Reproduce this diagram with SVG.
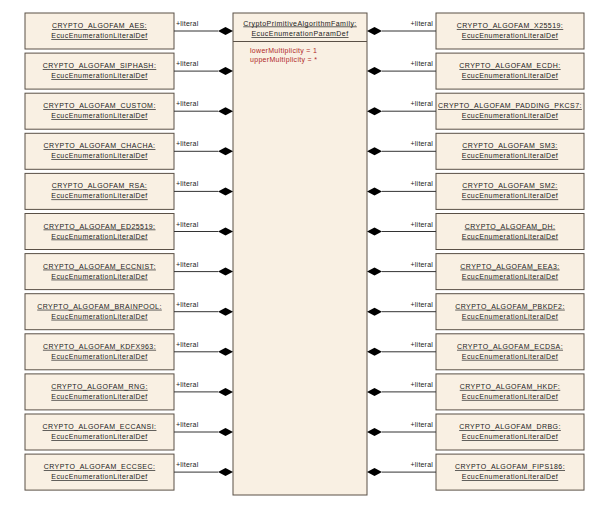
<svg xmlns="http://www.w3.org/2000/svg" width="604" height="519" viewBox="0 0 604 519">
<style>
.box{fill:#F9F0E3;stroke:#5a5046;stroke-width:1}
.t{font-family:"Liberation Sans",Arial,sans-serif;font-size:7px;letter-spacing:0.45px;fill:#222;text-anchor:middle;text-decoration:underline}
.lbl{font-family:"Liberation Sans",Arial,sans-serif;font-size:7px;letter-spacing:0.2px;fill:#222}
.attr{font-family:"Liberation Sans",Arial,sans-serif;font-size:7px;letter-spacing:0.3px;fill:#b02828}
.ln{stroke:#333;stroke-width:1;fill:none}
.dia{fill:#000}
</style>
<rect width="604" height="519" fill="#fff"/>
<g id="center">
<rect class="box" x="233" y="13" width="134" height="482"/>
<text class="t" x="300" y="25.5">CryptoPrimitiveAlgorithmFamily:</text>
<text class="t" x="300" y="36">EcucEnumerationParamDef</text>
<line x1="233" y1="41.5" x2="367" y2="41.5" stroke="#5a5046"/>
<text class="attr" x="250" y="52.5">lowerMultiplicity = 1</text>
<text class="attr" x="250" y="61.5">upperMultiplicity = *</text>
</g>
<g id="left-nodes">
<g id="n-aes"><rect class="box" x="25" y="13" width="149" height="36"/><text class="t" x="99.5" y="28">CRYPTO_ALGOFAM_AES:</text><text class="t" x="99.5" y="38">EcucEnumerationLiteralDef</text></g>
<g id="n-siphash"><rect class="box" x="25" y="53.1" width="149" height="36"/><text class="t" x="99.5" y="68.1">CRYPTO_ALGOFAM_SIPHASH:</text><text class="t" x="99.5" y="78.1">EcucEnumerationLiteralDef</text></g>
<g id="n-custom"><rect class="box" x="25" y="93.2" width="149" height="36"/><text class="t" x="99.5" y="108.2">CRYPTO_ALGOFAM_CUSTOM:</text><text class="t" x="99.5" y="118.2">EcucEnumerationLiteralDef</text></g>
<g id="n-chacha"><rect class="box" x="25" y="133.3" width="149" height="36"/><text class="t" x="99.5" y="148.3">CRYPTO_ALGOFAM_CHACHA:</text><text class="t" x="99.5" y="158.3">EcucEnumerationLiteralDef</text></g>
<g id="n-rsa"><rect class="box" x="25" y="173.4" width="149" height="36"/><text class="t" x="99.5" y="188.4">CRYPTO_ALGOFAM_RSA:</text><text class="t" x="99.5" y="198.4">EcucEnumerationLiteralDef</text></g>
<g id="n-ed25519"><rect class="box" x="25" y="213.5" width="149" height="36"/><text class="t" x="99.5" y="228.5">CRYPTO_ALGOFAM_ED25519:</text><text class="t" x="99.5" y="238.5">EcucEnumerationLiteralDef</text></g>
<g id="n-eccnist"><rect class="box" x="25" y="253.6" width="149" height="36"/><text class="t" x="99.5" y="268.6">CRYPTO_ALGOFAM_ECCNIST:</text><text class="t" x="99.5" y="278.6">EcucEnumerationLiteralDef</text></g>
<g id="n-brainpool"><rect class="box" x="25" y="293.7" width="149" height="36"/><text class="t" x="99.5" y="308.7">CRYPTO_ALGOFAM_BRAINPOOL:</text><text class="t" x="99.5" y="318.7">EcucEnumerationLiteralDef</text></g>
<g id="n-kdfx963"><rect class="box" x="25" y="333.8" width="149" height="36"/><text class="t" x="99.5" y="348.8">CRYPTO_ALGOFAM_KDFX963:</text><text class="t" x="99.5" y="358.8">EcucEnumerationLiteralDef</text></g>
<g id="n-rng"><rect class="box" x="25" y="373.9" width="149" height="36"/><text class="t" x="99.5" y="388.9">CRYPTO_ALGOFAM_RNG:</text><text class="t" x="99.5" y="398.9">EcucEnumerationLiteralDef</text></g>
<g id="n-eccansi"><rect class="box" x="25" y="414" width="149" height="36"/><text class="t" x="99.5" y="429">CRYPTO_ALGOFAM_ECCANSI:</text><text class="t" x="99.5" y="439">EcucEnumerationLiteralDef</text></g>
<g id="n-eccsec"><rect class="box" x="25" y="454.1" width="149" height="36"/><text class="t" x="99.5" y="469.1">CRYPTO_ALGOFAM_ECCSEC:</text><text class="t" x="99.5" y="479.1">EcucEnumerationLiteralDef</text></g>
</g>
<g id="right-nodes">
<g id="n-x25519"><rect class="box" x="436" y="13" width="148" height="36"/><text class="t" x="510" y="28">CRYPTO_ALGOFAM_X25519:</text><text class="t" x="510" y="38">EcucEnumerationLiteralDef</text></g>
<g id="n-ecdh"><rect class="box" x="436" y="53.1" width="148" height="36"/><text class="t" x="510" y="68.1">CRYPTO_ALGOFAM_ECDH:</text><text class="t" x="510" y="78.1">EcucEnumerationLiteralDef</text></g>
<g id="n-pkcs7"><rect class="box" x="436" y="93.2" width="148" height="36"/><text class="t" x="510" y="108.2">CRYPTO_ALGOFAM_PADDING_PKCS7:</text><text class="t" x="510" y="118.2">EcucEnumerationLiteralDef</text></g>
<g id="n-sm3"><rect class="box" x="436" y="133.3" width="148" height="36"/><text class="t" x="510" y="148.3">CRYPTO_ALGOFAM_SM3:</text><text class="t" x="510" y="158.3">EcucEnumerationLiteralDef</text></g>
<g id="n-sm2"><rect class="box" x="436" y="173.4" width="148" height="36"/><text class="t" x="510" y="188.4">CRYPTO_ALGOFAM_SM2:</text><text class="t" x="510" y="198.4">EcucEnumerationLiteralDef</text></g>
<g id="n-dh"><rect class="box" x="436" y="213.5" width="148" height="36"/><text class="t" x="510" y="228.5">CRYPTO_ALGOFAM_DH:</text><text class="t" x="510" y="238.5">EcucEnumerationLiteralDef</text></g>
<g id="n-eea3"><rect class="box" x="436" y="253.6" width="148" height="36"/><text class="t" x="510" y="268.6">CRYPTO_ALGOFAM_EEA3:</text><text class="t" x="510" y="278.6">EcucEnumerationLiteralDef</text></g>
<g id="n-pbkdf2"><rect class="box" x="436" y="293.7" width="148" height="36"/><text class="t" x="510" y="308.7">CRYPTO_ALGOFAM_PBKDF2:</text><text class="t" x="510" y="318.7">EcucEnumerationLiteralDef</text></g>
<g id="n-ecdsa"><rect class="box" x="436" y="333.8" width="148" height="36"/><text class="t" x="510" y="348.8">CRYPTO_ALGOFAM_ECDSA:</text><text class="t" x="510" y="358.8">EcucEnumerationLiteralDef</text></g>
<g id="n-hkdf"><rect class="box" x="436" y="373.9" width="148" height="36"/><text class="t" x="510" y="388.9">CRYPTO_ALGOFAM_HKDF:</text><text class="t" x="510" y="398.9">EcucEnumerationLiteralDef</text></g>
<g id="n-drbg"><rect class="box" x="436" y="414" width="148" height="36"/><text class="t" x="510" y="429">CRYPTO_ALGOFAM_DRBG:</text><text class="t" x="510" y="439">EcucEnumerationLiteralDef</text></g>
<g id="n-fips186"><rect class="box" x="436" y="454.1" width="148" height="36"/><text class="t" x="510" y="469.1">CRYPTO_ALGOFAM_FIPS186:</text><text class="t" x="510" y="479.1">EcucEnumerationLiteralDef</text></g>
</g>
<defs>
<polygon id="dl" class="dia" points="218,0 225.5,-4 233,0 225.5,4"/>
<polygon id="dr" class="dia" points="367,0 374.5,-4 382,0 374.5,4"/>
</defs>
<g id="connectors">
<g transform="translate(0,31)"><line class="ln" x1="174" y1="0" x2="218" y2="0"/><use href="#dl"/><text class="lbl" x="176" y="-5">+literal</text><line class="ln" x1="382" y1="0" x2="436" y2="0"/><use href="#dr"/><text class="lbl" x="433" y="-5" text-anchor="end">+literal</text></g>
<g transform="translate(0,71.1)"><line class="ln" x1="174" y1="0" x2="218" y2="0"/><use href="#dl"/><text class="lbl" x="176" y="-5">+literal</text><line class="ln" x1="382" y1="0" x2="436" y2="0"/><use href="#dr"/><text class="lbl" x="433" y="-5" text-anchor="end">+literal</text></g>
<g transform="translate(0,111.2)"><line class="ln" x1="174" y1="0" x2="218" y2="0"/><use href="#dl"/><text class="lbl" x="176" y="-5">+literal</text><line class="ln" x1="382" y1="0" x2="436" y2="0"/><use href="#dr"/><text class="lbl" x="433" y="-5" text-anchor="end">+literal</text></g>
<g transform="translate(0,151.3)"><line class="ln" x1="174" y1="0" x2="218" y2="0"/><use href="#dl"/><text class="lbl" x="176" y="-5">+literal</text><line class="ln" x1="382" y1="0" x2="436" y2="0"/><use href="#dr"/><text class="lbl" x="433" y="-5" text-anchor="end">+literal</text></g>
<g transform="translate(0,191.4)"><line class="ln" x1="174" y1="0" x2="218" y2="0"/><use href="#dl"/><text class="lbl" x="176" y="-5">+literal</text><line class="ln" x1="382" y1="0" x2="436" y2="0"/><use href="#dr"/><text class="lbl" x="433" y="-5" text-anchor="end">+literal</text></g>
<g transform="translate(0,231.5)"><line class="ln" x1="174" y1="0" x2="218" y2="0"/><use href="#dl"/><text class="lbl" x="176" y="-5">+literal</text><line class="ln" x1="382" y1="0" x2="436" y2="0"/><use href="#dr"/><text class="lbl" x="433" y="-5" text-anchor="end">+literal</text></g>
<g transform="translate(0,271.6)"><line class="ln" x1="174" y1="0" x2="218" y2="0"/><use href="#dl"/><text class="lbl" x="176" y="-5">+literal</text><line class="ln" x1="382" y1="0" x2="436" y2="0"/><use href="#dr"/><text class="lbl" x="433" y="-5" text-anchor="end">+literal</text></g>
<g transform="translate(0,311.7)"><line class="ln" x1="174" y1="0" x2="218" y2="0"/><use href="#dl"/><text class="lbl" x="176" y="-5">+literal</text><line class="ln" x1="382" y1="0" x2="436" y2="0"/><use href="#dr"/><text class="lbl" x="433" y="-5" text-anchor="end">+literal</text></g>
<g transform="translate(0,351.8)"><line class="ln" x1="174" y1="0" x2="218" y2="0"/><use href="#dl"/><text class="lbl" x="176" y="-5">+literal</text><line class="ln" x1="382" y1="0" x2="436" y2="0"/><use href="#dr"/><text class="lbl" x="433" y="-5" text-anchor="end">+literal</text></g>
<g transform="translate(0,391.9)"><line class="ln" x1="174" y1="0" x2="218" y2="0"/><use href="#dl"/><text class="lbl" x="176" y="-5">+literal</text><line class="ln" x1="382" y1="0" x2="436" y2="0"/><use href="#dr"/><text class="lbl" x="433" y="-5" text-anchor="end">+literal</text></g>
<g transform="translate(0,432)"><line class="ln" x1="174" y1="0" x2="218" y2="0"/><use href="#dl"/><text class="lbl" x="176" y="-5">+literal</text><line class="ln" x1="382" y1="0" x2="436" y2="0"/><use href="#dr"/><text class="lbl" x="433" y="-5" text-anchor="end">+literal</text></g>
<g transform="translate(0,472.1)"><line class="ln" x1="174" y1="0" x2="218" y2="0"/><use href="#dl"/><text class="lbl" x="176" y="-5">+literal</text><line class="ln" x1="382" y1="0" x2="436" y2="0"/><use href="#dr"/><text class="lbl" x="433" y="-5" text-anchor="end">+literal</text></g>
</g>
</svg>
